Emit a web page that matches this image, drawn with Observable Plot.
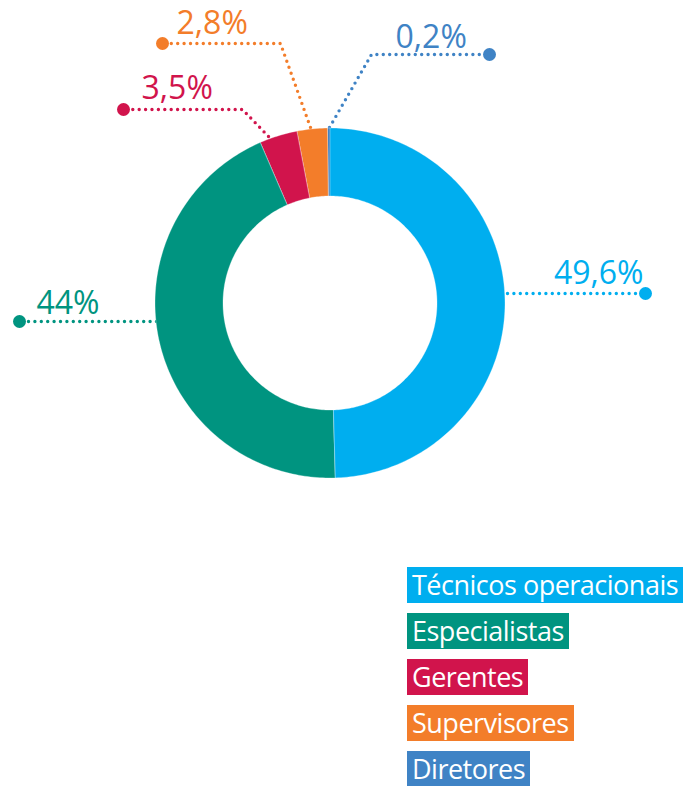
<!DOCTYPE html>
<html>
<head>
<meta charset="utf-8">
<script src="https://cdn.jsdelivr.net/npm/d3@7"></script>
<script src="https://cdn.jsdelivr.net/npm/@observablehq/plot@0.6"></script>
<style>
  html, body { margin: 0; padding: 0; background: #fff; }
  #chart svg { display: block; }
  #legend { margin-top: 7px; }
  .item {
    margin-left: 407px; margin-bottom: 10px;
    height: 36px; line-height: 36px;
    width: fit-content;
    padding: 0 5px 0 5px;
    color: #fff;
    font-family: "Open Sans", sans-serif;
    font-size: 27px;
    letter-spacing: -0.5px;
    white-space: nowrap;
  }
</style>
</head>
<body>
<div id="chart"></div>
<div id="legend"></div>
<script>
// ---- data ----
const categories = ["Técnicos operacionais", "Especialistas", "Gerentes", "Supervisores", "Diretores"];
const values = [49.6, 44, 3.5, 2.8, 0.2];
const valueLabels = ["49,6%", "44%", "3,5%", "2,8%", "0,2%"];
const colors = ["#00AEEF", "#009480", "#D1144C", "#F37D2A", "#3F83C5"];

// ---- layout ----
const W = 686, H = 560;
const cx = 330, cy = 303, R = 175, r = 107;
// leader layout: [start, knee, end] points and label anchor
const leaders = [
  {pts: [[507, 293], [645, 293]], tx: 643, ty: 283, anchor: "end"},
  {pts: [[156, 321], [19, 321]], tx: 36, ty: 313, anchor: "start"},
  {pts: [[268, 136], [242, 109], [123, 109]], tx: 141, ty: 98, anchor: "start"},
  {pts: [[310, 127], [280, 43], [162, 43]], tx: 176, ty: 33, anchor: "start"},
  {pts: [[329, 127], [371, 54], [489, 54]], tx: 395, ty: 47, anchor: "start"}
];

// ---- slices from values ----
const total = d3.sum(values);
const rows = [];
let acc = 0;
values.forEach((v, i) => {
  const a0 = acc / total * 2 * Math.PI;
  acc += v;
  const a1 = acc / total * 2 * Math.PI;
  const n = Math.max(2, Math.ceil((a1 - a0) / (2 * Math.PI) * 360));
  for (let k = 0; k <= n; k++) {
    const a = a0 + (a1 - a0) * k / n;
    rows.push({
      cat: categories[i],
      x1: cx + R * Math.sin(a), y1: cy - R * Math.cos(a),
      x2: cx + r * Math.sin(a), y2: cy - r * Math.cos(a)
    });
  }
});

const lineRows = [];
const dotRows = [];
const textRows = [];
leaders.forEach((L, i) => {
  L.pts.forEach(p => lineRows.push({cat: categories[i], x: p[0], y: p[1]}));
  const e = L.pts[L.pts.length - 1];
  dotRows.push({cat: categories[i], x: e[0], y: e[1]});
  textRows.push({cat: categories[i], x: L.tx, y: L.ty, label: valueLabels[i], anchor: L.anchor});
});

const font = "'Open Sans', sans-serif";
const chart = Plot.plot({
  width: W, height: H,
  margin: 0,
  x: {domain: [0, W], range: [0, W], axis: null},
  y: {domain: [0, H], range: [0, H], axis: null},
  color: {domain: categories, range: colors},
  style: {background: "#fff", fontFamily: font},
  marks: [
    Plot.line(lineRows, {x: "x", y: "y", z: "cat", stroke: "cat", strokeWidth: 3.4,
      strokeDasharray: "0,6.4", strokeLinecap: "round", curve: "linear"}),
    Plot.area(rows, {x1: "x1", y1: "y1", x2: "x2", y2: "y2", z: "cat", fill: "cat",
      stroke: "#fff", strokeWidth: 0.5, strokeOpacity: 0.6, curve: "linear"}),
    Plot.dot(dotRows, {x: "x", y: "y", r: 6.5, fill: "cat"}),
    Plot.text(textRows.filter(d => d.anchor === "end"), {x: "x", y: "y", text: "label", fill: "cat",
      textAnchor: "end", lineAnchor: "bottom", fontSize: 32, fontFamily: font}),
    Plot.text(textRows.filter(d => d.anchor === "start"), {x: "x", y: "y", text: "label", fill: "cat",
      textAnchor: "start", lineAnchor: "bottom", fontSize: 32, fontFamily: font})
  ]
});
document.getElementById("chart").appendChild(chart);

const legend = document.getElementById("legend");
categories.forEach((c, i) => {
  const d = document.createElement("div");
  d.className = "item";
  d.style.background = colors[i];
  d.textContent = c;
  legend.appendChild(d);
});
</script>
</body>
</html>
